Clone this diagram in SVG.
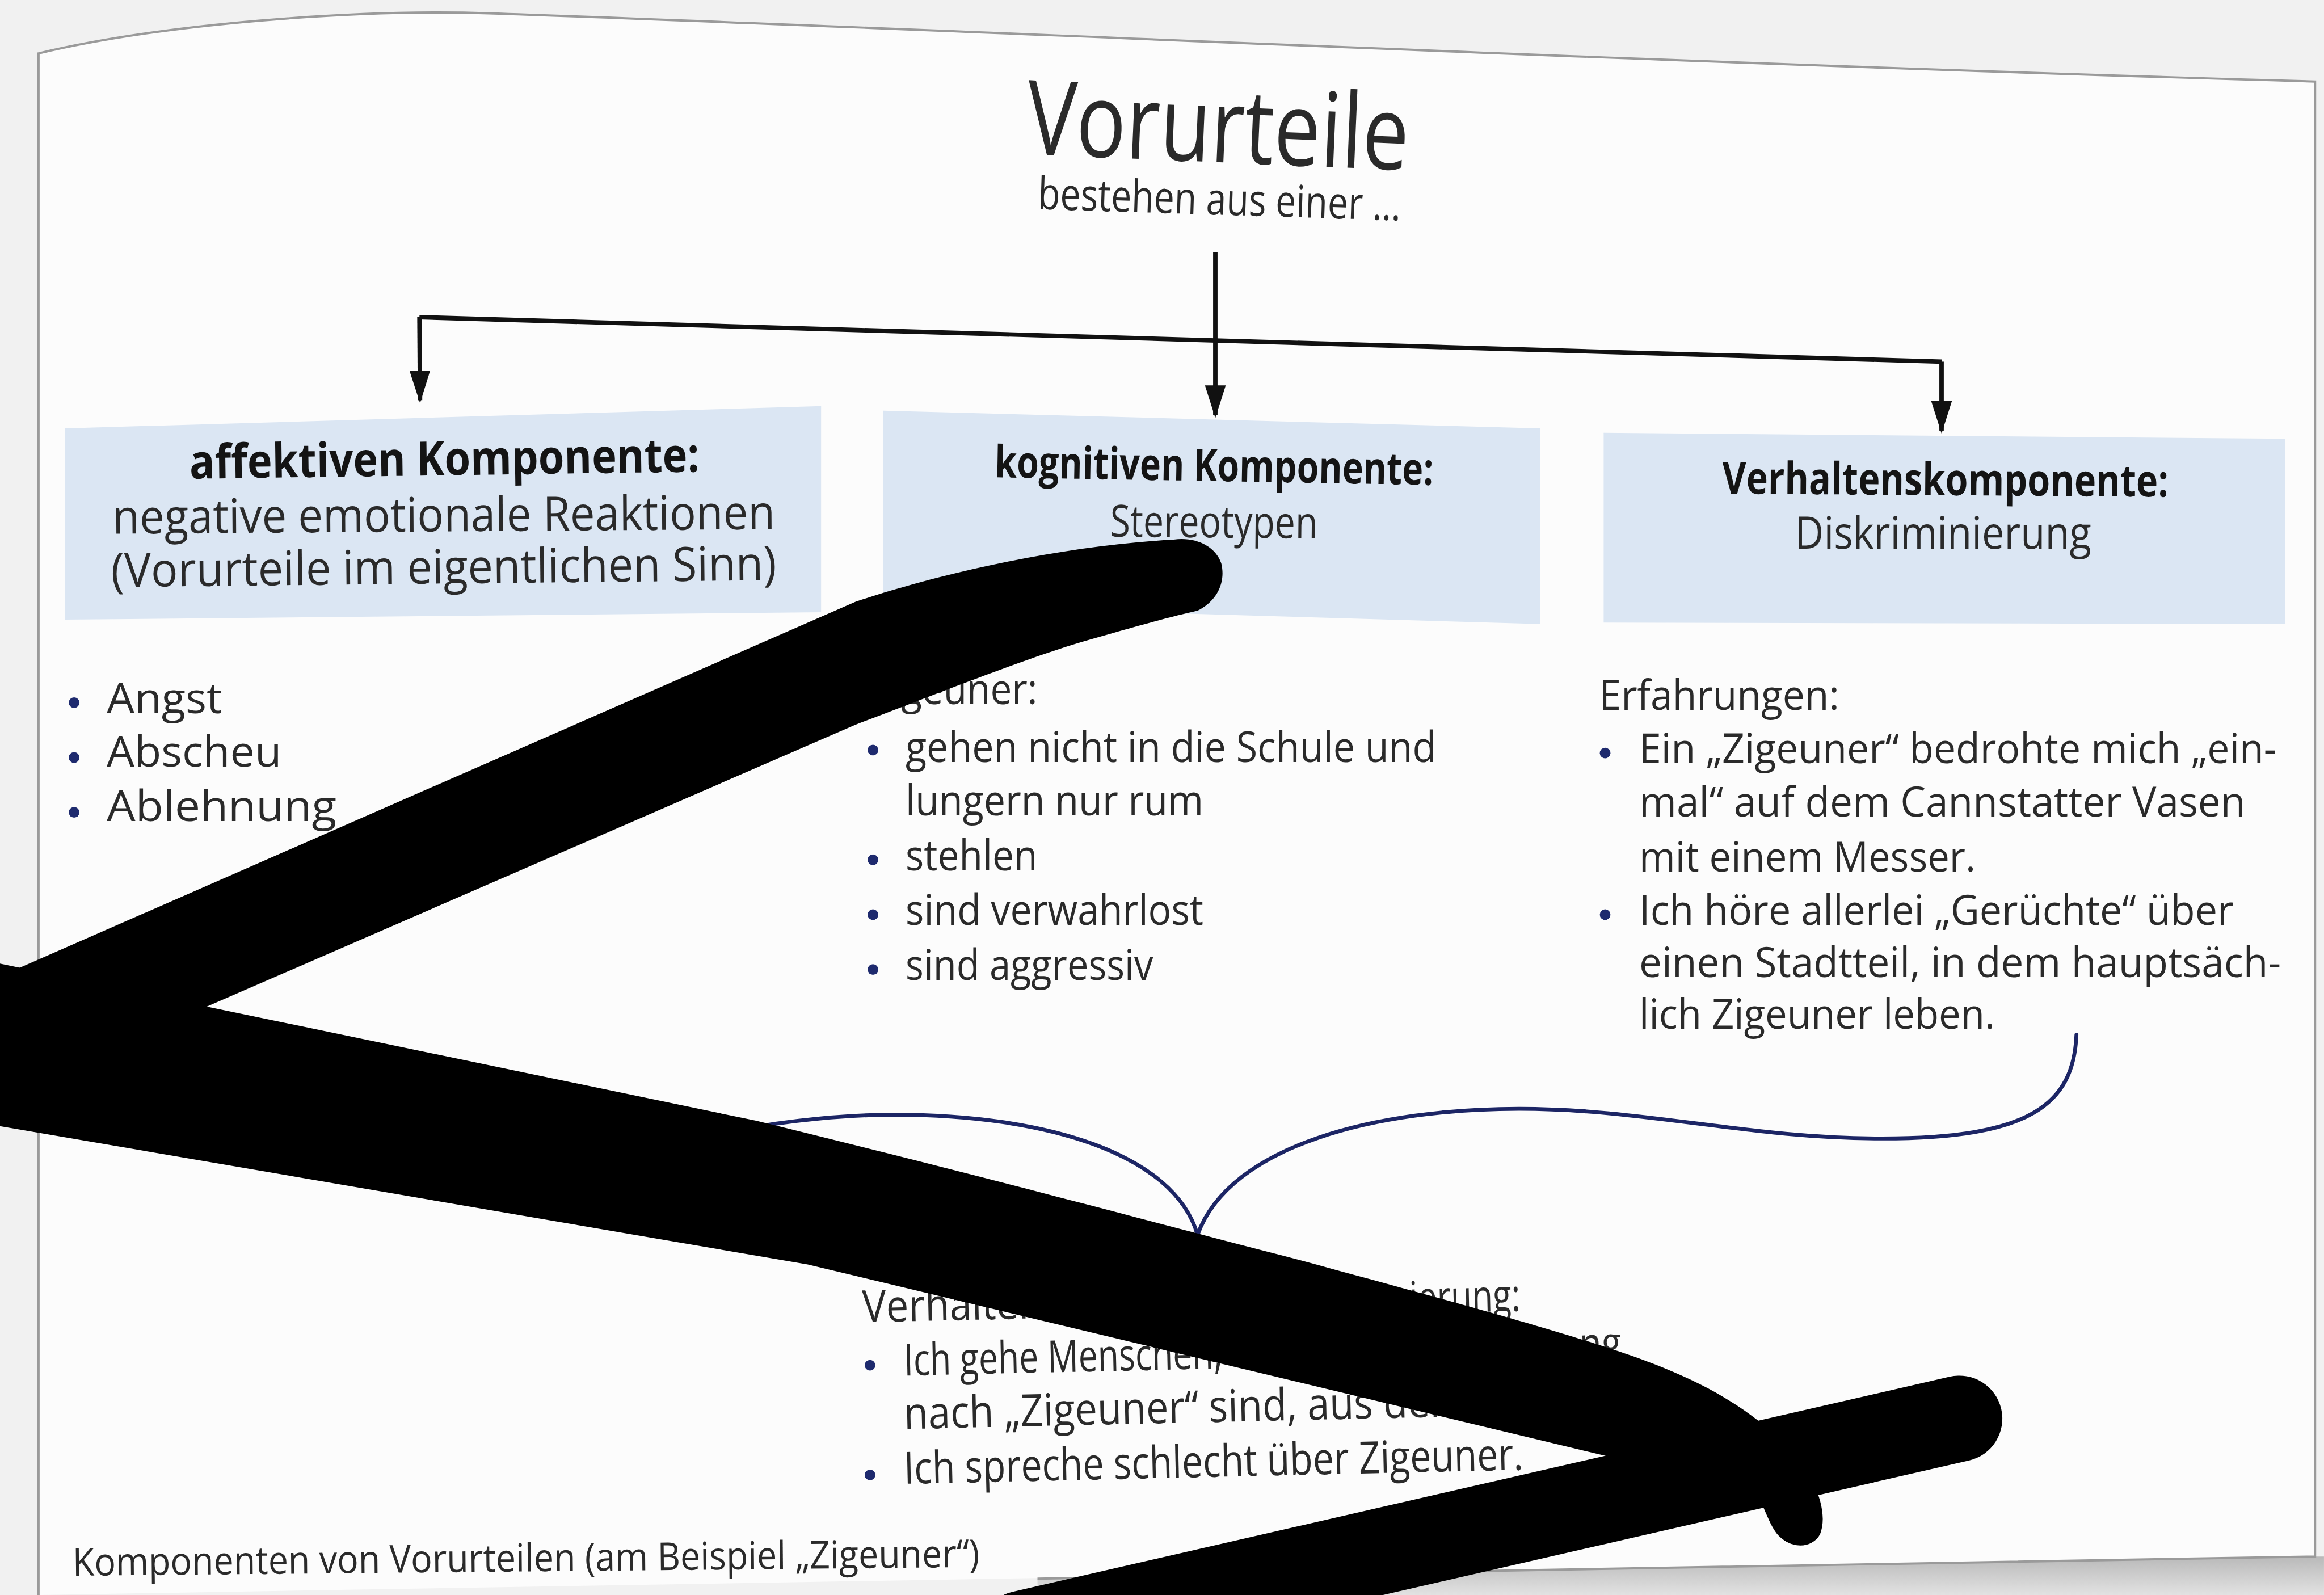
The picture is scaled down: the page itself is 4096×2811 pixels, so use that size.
<svg xmlns="http://www.w3.org/2000/svg" width="4096" height="2811" viewBox="0 0 4096 2811">
<defs>
<style>
.t{font-family:"Open Sans","Noto Sans","Liberation Sans",sans-serif;fill:#2a2a2a}
.b{font-weight:700;fill:#141414}
.box{fill:#dbe6f3}
.bul{fill:#1e2a6e}
.ln{stroke:#111;stroke-width:3;fill:none}
.brace{stroke:#1c2565;stroke-width:2.6;fill:none;stroke-linecap:round}
.ink{fill:#000}
</style>
<marker id="arr" viewBox="0 0 22 14" refX="20" refY="7" markerWidth="22" markerHeight="14" markerUnits="userSpaceOnUse" orient="auto">
<path d="M0,0 L22,7 L0,14 z" fill="#111"/>
</marker>
<linearGradient id="shade" x1="0" y1="0" x2="0" y2="1">
<stop offset="0" stop-color="#b9b9b9"/>
<stop offset="1" stop-color="#e2e2e2"/>
</linearGradient>
</defs>
<g transform="scale(2.6122 2.6125)">
<rect x="0" y="0" width="1568" height="1076" fill="#f1f1f1"/>
<g id="page">
<path d="M26,1080 L26,36 C110,16 240,6 330,9 C600,18 1100,42 1562,55 L1562,1050 L26,1076 Z" fill="#fcfcfc"/>
<path d="M700,1065 L1562,1050 L1568,1050 L1568,1076 L700,1076 Z" fill="url(#shade)"/>
<path d="M26,1076 L26,36 C110,16 240,6 330,9 C600,18 1100,42 1562,55 L1562,1050 L700,1065" fill="none" stroke="#9a9a9a" stroke-width="1.5"/>
</g>

<g id="title">
<text class="t" x="692" y="104" font-size="70" textLength="258" lengthAdjust="spacingAndGlyphs" fill="#1a1a1a" transform="rotate(2.4 692 104)">Vorurteile</text>
<text class="t" x="700" y="141" font-size="30" textLength="245" lengthAdjust="spacingAndGlyphs" transform="rotate(1.8 700 141)">bestehen aus einer …</text>
</g>

<g id="connectors">
<path class="ln" d="M283,214 L1310,244"/>
<path class="ln" d="M283,214 L283.4,270" marker-end="url(#arr)"/>
<path class="ln" d="M820,170 L820,280" marker-end="url(#arr)"/>
<path class="ln" d="M1310,244 L1310,290.5" marker-end="url(#arr)"/>
</g>

<g id="node-affektiv">
<path class="box" d="M44,289 L554,274 L554,413 L44,418 Z"/>
<text class="t b" x="128" y="323" font-size="32" textLength="344" lengthAdjust="spacingAndGlyphs" transform="rotate(-0.8 128 323)">affektiven Komponente:</text>
<text class="t" x="76" y="360" font-size="32" textLength="447" lengthAdjust="spacingAndGlyphs" transform="rotate(-0.4 76 360)">negative emotionale Reaktionen</text>
<text class="t" x="75" y="396" font-size="32" textLength="449" lengthAdjust="spacingAndGlyphs" transform="rotate(-0.6 75 396)">(Vorurteile im eigentlichen Sinn)</text>
</g>

<g id="node-kognitiv">
<path class="box" d="M596,277 L1039,289 L1039,421 L596,408 Z"/>
<text class="t b" x="671" y="322" font-size="30" textLength="296" lengthAdjust="spacingAndGlyphs" transform="rotate(1.0 671 322)">kognitiven Komponente:</text>
<text class="t" x="749" y="362" font-size="30" textLength="140" lengthAdjust="spacingAndGlyphs" transform="rotate(0.5 749 362)">Stereotypen</text>
</g>

<g id="node-verhalten">
<path class="box" d="M1082,292 L1542,296 L1542,421 L1082,420 Z"/>
<text class="t b" x="1162" y="333" font-size="30" textLength="301" lengthAdjust="spacingAndGlyphs" transform="rotate(0.4 1162 333)">Verhaltenskomponente:</text>
<text class="t" x="1211" y="370" font-size="30" textLength="200" lengthAdjust="spacingAndGlyphs">Diskriminierung</text>
</g>

<g id="list-affektiv">
<circle class="bul" cx="50" cy="474" r="3.6"/>
<circle class="bul" cx="50" cy="511" r="3.6"/>
<circle class="bul" cx="50" cy="548" r="3.6"/>
<text class="t" x="72" y="481" font-size="28.5" textLength="78" lengthAdjust="spacingAndGlyphs">Angst</text>
<text class="t" x="72" y="517" font-size="28.5" textLength="118" lengthAdjust="spacingAndGlyphs">Abscheu</text>
<text class="t" x="72" y="554" font-size="28.5" textLength="155" lengthAdjust="spacingAndGlyphs">Ablehnung</text>
</g>

<g id="list-kognitiv">
<text class="t" x="608" y="475" font-size="28.5" textLength="92" lengthAdjust="spacingAndGlyphs">geuner:</text>
<circle class="bul" cx="589" cy="506" r="3.6"/>
<circle class="bul" cx="589" cy="580" r="3.6"/>
<circle class="bul" cx="589" cy="617" r="3.6"/>
<circle class="bul" cx="589" cy="654" r="3.6"/>
<text class="t" x="611" y="514" font-size="28.5" textLength="358" lengthAdjust="spacingAndGlyphs">gehen nicht in die Schule und</text>
<text class="t" x="611" y="550" font-size="28.5" textLength="201" lengthAdjust="spacingAndGlyphs">lungern nur rum</text>
<text class="t" x="611" y="587" font-size="28.5" textLength="89" lengthAdjust="spacingAndGlyphs">stehlen</text>
<text class="t" x="611" y="624" font-size="28.5" textLength="201" lengthAdjust="spacingAndGlyphs">sind verwahrlost</text>
<text class="t" x="611" y="661" font-size="28.5" textLength="167" lengthAdjust="spacingAndGlyphs">sind aggressiv</text>
</g>

<g id="list-verhalten">
<text class="t" x="1079" y="479" font-size="28" textLength="162" lengthAdjust="spacingAndGlyphs">Erfahrungen:</text>
<circle class="bul" cx="1083" cy="508" r="3.6"/>
<circle class="bul" cx="1083" cy="617" r="3.6"/>
<text class="t" x="1106" y="515" font-size="28" textLength="430" lengthAdjust="spacingAndGlyphs">Ein „Zigeuner“ bedrohte mich „ein-</text>
<text class="t" x="1106" y="551" font-size="28" textLength="409" lengthAdjust="spacingAndGlyphs">mal“ auf dem Cannstatter Vasen</text>
<text class="t" x="1106" y="588" font-size="28" textLength="227" lengthAdjust="spacingAndGlyphs">mit einem Messer.</text>
<text class="t" x="1106" y="624" font-size="28" textLength="401" lengthAdjust="spacingAndGlyphs">Ich höre allerlei „Gerüchte“ über</text>
<text class="t" x="1106" y="659" font-size="28" textLength="433" lengthAdjust="spacingAndGlyphs">einen Stadtteil, in dem hauptsäch-</text>
<text class="t" x="1106" y="694" font-size="28" textLength="240" lengthAdjust="spacingAndGlyphs">lich Zigeuner leben.</text>
</g>

<g id="brace">
<path class="brace" d="M1401,698 C1399,745 1370,768 1270,768 C1180,768 1110,748 1025,748 C930,748 830,772 808,833"/>
<path class="brace" d="M808,833 C792,778 705,752 604,752 C570,752 530,756 500,762"/>
</g>

<g id="list-bottom">
<text class="t" x="582" y="892" font-size="30" textLength="122" lengthAdjust="spacingAndGlyphs" transform="rotate(-1.3 582 892)">Verhalten</text>
<text class="t" x="951" y="886" font-size="30" textLength="75" lengthAdjust="spacingAndGlyphs" transform="rotate(-1.3 951 886)">ierung:</text>
<circle class="bul" cx="587" cy="921" r="3.6"/>
<circle class="bul" cx="587" cy="995" r="3.6"/>
<text class="t" x="610" y="928" font-size="30" textLength="215" lengthAdjust="spacingAndGlyphs" transform="rotate(-1.3 610 928)">Ich gehe Menschen,</text>
<text class="t" x="1066" y="917" font-size="30" textLength="28" lengthAdjust="spacingAndGlyphs" transform="rotate(-1.3 1066 917)">ng</text>
<text class="t" x="610" y="964" font-size="30" textLength="380" lengthAdjust="spacingAndGlyphs" transform="rotate(-1.3 610 964)">nach „Zigeuner“ sind, aus dem</text>
<text class="t" x="610" y="1001" font-size="30" textLength="418" lengthAdjust="spacingAndGlyphs" transform="rotate(-1.3 610 1001)">Ich spreche schlecht über Zigeuner.</text>
</g>

<g id="caption">
<text class="t" x="49" y="1063" font-size="26" textLength="612" lengthAdjust="spacingAndGlyphs" fill="#111" transform="rotate(-0.55 49 1063)">Komponenten von Vorurteilen (am Beispiel „Zigeuner“)</text>
</g>

<g id="marker-strokes">
<path class="ink" d="M-10,744 L577,489 C640,465 690,445 730,433 C765,423 790,416 808,412 C822,405 827,392 824,380 C820,368 806,362 792,364 C720,368 640,385 577,406 L-10,663 Z"/>
<path class="ink" d="M-10,648 L510,756 C650,790 780,825 877,850 C980,878 1080,905 1123,923 C1160,938 1185,955 1205,975 C1225,995 1234,1020 1228,1035 C1222,1046 1205,1045 1197,1032 C1190,1020 1188,1008 1180,1002 L1087,983 L545,853 L-10,758 Z"/>
<path d="M1322,957 L690,1102" stroke="#000" stroke-width="58" stroke-linecap="round" fill="none"/>
</g>
</g>
</svg>
